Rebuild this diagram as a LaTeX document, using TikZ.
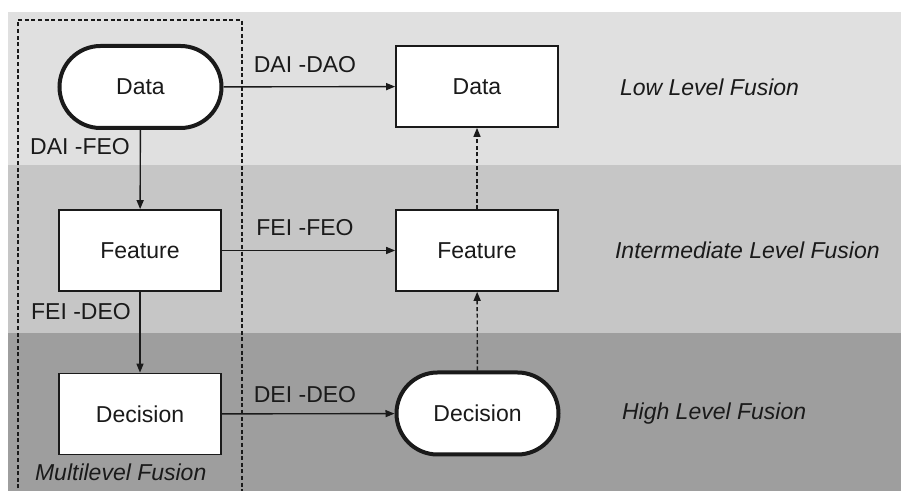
\documentclass[tikz,border=0pt]{standalone}
\usepackage{fontspec}
\setmainfont{Liberation Sans}
\usetikzlibrary{arrows.meta}
\definecolor{bandA}{HTML}{E0E0E0}
\definecolor{bandB}{HTML}{C6C6C6}
\definecolor{bandC}{HTML}{9E9E9E}
\definecolor{ink}{HTML}{1A1A1A}
\begin{document}
\begin{tikzpicture}[x=0.5pt,y=-0.5pt,
  every node/.style={font=\fontsize{11.5}{13}\selectfont, text=ink},
  boxnode/.style={draw=ink, fill=white, line width=0.85pt, minimum width=81pt, minimum height=40.5pt, inner sep=0pt},
  termnode/.style={draw=ink, fill=white, line width=2pt, minimum width=81pt, minimum height=41pt, rounded corners=20.5pt, inner sep=0pt},
  conn/.style={draw=ink, line width=0.7pt, -{Triangle[length=4.5pt,width=3.5pt]}},
  dconn/.style={conn, dash pattern=on 2pt off 1.3pt},
  lvl/.style={font=\fontsize{11.5}{13}\selectfont\itshape},
  lbl/.style={inner sep=0pt}
]
\useasboundingbox (0,0) rectangle (901,491);
\fill[white] (0,0) rectangle (901,491);
\fill[bandA] (8,12) rectangle (901,165);
\fill[bandB] (8,165) rectangle (901,333);
\fill[bandC] (8,333) rectangle (901,491);
\draw[ink, line width=0.6pt, dash pattern=on 2pt off 1.3pt] (18,495) -- (18,20) -- (242,20) -- (242,495);

\node[termnode] (d1) at (140.5,87) {Data};
\node[boxnode] (f1) at (140,250.5) {Feature};
\node[boxnode] (c1) at (140,414) {Decision};
\node[boxnode] (d2) at (477,86.5) {Data};
\node[boxnode] (f2) at (477,250.5) {Feature};
\node[termnode] (c2) at (477.5,413.5) {Decision};

\draw[conn] (d1) -- (d2);
\draw[conn] (f1) -- (f2);
\draw[conn] (c1) -- (c2);
\draw[conn] (d1) -- (f1);
\draw[conn] (f1) -- (c1);
\draw[dconn] (c2) -- (f2);
\draw[dconn] (f2) -- (d2);

\node[lbl] (l1) at (305,65) {DAI -DAO};
\node[lbl] (l2) at (80,147) {DAI -FEO};
\node[lbl] (l3) at (305,228) {FEI -FEO};
\node[lbl] (l4) at (81,312) {FEI -DEO};
\node[lbl] (l5) at (305,395) {DEI -DEO};

\node[lvl, anchor=west] (t1) at (613,87) {Low Level Fusion};
\node[lvl, anchor=west] (t2) at (608,250) {Intermediate Level Fusion};
\node[lvl, anchor=west] (t3) at (615,414) {High Level Fusion};
\node[lvl, anchor=west] (t4) at (28,472) {Multilevel Fusion};
\end{tikzpicture}
\end{document}
